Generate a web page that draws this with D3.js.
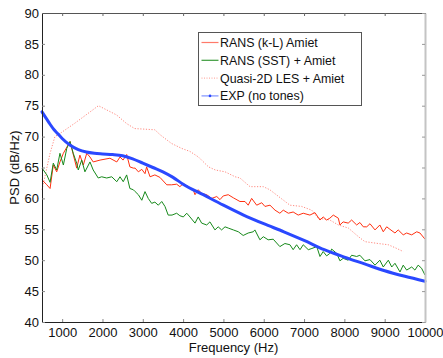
<!DOCTYPE html>
<html>
<head>
<meta charset="utf-8">
<script src="https://cdn.jsdelivr.net/npm/d3@7"></script>
<style>
  body { margin: 0; background: #fff; }
  svg { font-family: "Liberation Sans", Arial, sans-serif; }
  .tick text { font-size: 13px; fill: #111; }
</style>
</head>
<body>
<div id="container"></div>
<script>
// ---------- data ----------
const xTicks = [1000, 2000, 3000, 4000, 5000, 6000, 7000, 8000, 9000, 10000];
const yTicks = [40, 45, 50, 55, 60, 65, 70, 75, 80, 85, 90];

const seriesNames = ["RANS (k-L) Amiet", "RANS (SST) + Amiet", "Quasi-2D LES + Amiet", "EXP (no tones)"];

// RANS (k-L) + Amiet
const redFreq = [500, 620, 700, 780, 865, 945, 1030, 1195, 1360, 1440, 1525, 1610, 1690, 1770, 1940, 2185,
  2355, 2435, 2510, 2600, 2680, 2765, 2810, 2890, 2975, 3055, 3095, 3180, 3300, 3425, 3595, 3715, 3840,
  3920, 4005, 4130, 4250, 4295, 4375, 4460, 4585, 4710, 4835, 4915, 4995, 5120, 5245, 5410, 5535, 5615,
  5700, 5825, 5950, 6030, 6155, 6280, 6400, 6485, 6610, 6730, 6855, 6980, 7145, 7270, 7395, 7475, 7560,
  7640, 7725, 7850, 7890, 7970, 8095, 8180, 8305, 8385, 8470, 8555, 8635, 8760, 8880, 8965, 9050, 9130,
  9255, 9335, 9460, 9545, 9670, 9795, 9875, 10000];
const redPsd = [63.0, 62.2, 61.6, 65.4, 64.3, 65.9, 67.3, 69.2, 64.9, 67.0, 65.4, 67.3, 66.7, 65.9, 66.2, 66.5,
  65.9, 66.7, 66.2, 67.1, 65.1, 64.9, 64.9, 64.3, 64.7, 64.0, 65.1, 63.5, 63.8, 63.4, 62.2, 62.2, 62.3,
  61.9, 62.4, 61.9, 61.4, 60.6, 61.4, 60.8, 60.6, 60.0, 60.3, 59.8, 60.4, 60.6, 60.1, 59.5, 59.5, 58.9,
  60.0, 58.9, 59.3, 58.7, 58.9, 58.1, 57.6, 58.1, 57.6, 57.8, 57.3, 57.6, 57.3, 57.7, 56.5, 57.0, 56.5,
  56.8, 57.3, 56.8, 55.7, 56.2, 56.0, 56.5, 55.7, 56.1, 55.4, 55.4, 55.9, 54.9, 55.7, 54.6, 55.4, 55.0,
  54.4, 54.9, 54.1, 54.4, 54.1, 54.6, 54.4, 53.4];

// RANS (SST) + Amiet
const greenFreq = [500, 620, 700, 780, 865, 945, 1030, 1115, 1195, 1275, 1360, 1400, 1485, 1565, 1690, 1770,
  1895, 1980, 2105, 2230, 2355, 2435, 2515, 2600, 2680, 2765, 2810, 2890, 2975, 3055, 3135, 3220, 3300,
  3385, 3470, 3550, 3630, 3725, 3840, 3920, 4005, 4090, 4170, 4295, 4375, 4460, 4585, 4665, 4790, 4870,
  4955, 5040, 5120, 5245, 5370, 5490, 5615, 5740, 5780, 5905, 5990, 6110, 6235, 6400, 6525, 6650, 6730,
  6815, 6900, 6980, 7105, 7195, 7315, 7395, 7475, 7560, 7640, 7685, 7810, 7890, 7970, 8095, 8180, 8305,
  8385, 8510, 8635, 8760, 8880, 8965, 9090, 9175, 9255, 9380, 9460, 9545, 9670, 9750, 9830, 9915, 10000];
const greenPsd = [64.9, 63.8, 62.6, 65.7, 64.6, 67.3, 65.4, 68.1, 69.2, 67.3, 65.7, 64.6, 66.2, 64.3, 65.9, 64.6,
  63.3, 63.5, 63.3, 63.5, 62.7, 63.5, 62.7, 63.8, 61.6, 61.4, 61.1, 60.6, 59.7, 61.1, 60.0, 59.2, 59.4,
  58.9, 59.5, 58.7, 57.3, 57.3, 57.6, 57.2, 57.0, 57.6, 57.0, 56.0, 57.0, 56.0, 55.7, 56.2, 54.9, 55.4,
  54.9, 55.4, 55.2, 54.9, 54.6, 54.0, 54.4, 54.6, 54.9, 53.3, 53.8, 53.3, 53.4, 52.2, 52.7, 52.5, 51.7,
  52.5, 51.7, 52.5, 51.7, 51.9, 52.2, 50.6, 51.4, 50.7, 51.1, 51.8, 51.1, 49.9, 50.3, 50.0, 50.8, 50.6,
  50.8, 49.9, 50.1, 49.2, 50.0, 48.9, 50.0, 48.9, 49.5, 48.1, 49.2, 48.4, 48.9, 48.4, 49.2, 48.7, 47.6];

// Quasi-2D LES + Amiet
const lesFreq = [500, 700, 820, 945, 1300, 1900, 2350, 2600, 2800, 3060, 3300, 3430, 3710, 3960, 4170, 4380,
  4630, 4800, 5040, 5290, 5410, 5660, 5990, 6150, 6530, 6650, 6940, 7190, 7350, 7640, 7850, 8100, 8350,
  8510, 8840, 9090, 9300, 9460];
const lesPsd = [61.4, 67.3, 70.0, 70.5, 72.1, 75.0, 73.5, 72.1, 71.3, 71.2, 71.1, 70.3, 68.9, 68.1, 67.6, 66.7,
  65.1, 64.6, 64.3, 63.5, 63.3, 61.9, 61.9, 61.4, 59.5, 58.9, 58.7, 58.1, 56.8, 56.5, 55.7, 55.2, 53.8,
  53.0, 52.7, 52.5, 51.9, 51.4];

// EXP (no tones)
const expFreq = [500, 600, 700, 800, 900, 1000, 1200, 1400, 1600, 1800, 2000, 2250, 2500, 2750, 3000, 3250,
  3500, 3750, 4000, 4500, 5000, 5500, 6000, 6500, 7000, 7500, 8000, 8500, 9000, 9500, 10000];
const expPsd = [74.0, 73.0, 72.0, 71.1, 70.4, 69.7, 68.6, 67.9, 67.5, 67.3, 67.2, 67.1, 66.9, 66.4, 65.7, 65.0,
  64.3, 63.4, 62.3, 60.6, 58.9, 57.3, 55.9, 54.6, 53.2, 51.7, 50.5, 49.4, 48.3, 47.4, 46.6];

// ---------- chart ----------
const W = 443, H = 358;
const margin = { left: 42, top: 13, right: 18, bottom: 36 };
const w = W - margin.left - margin.right;
const h = H - margin.top - margin.bottom;

const svg = d3.select("#container").append("svg")
  .attr("width", W).attr("height", H);

const x = d3.scaleLinear().domain([500, 10000]).range([0, w]);
const y = d3.scaleLinear().domain([40, 90]).range([h, 0]);

const g = svg.append("g").attr("transform", `translate(${margin.left},${margin.top})`);

const zip = (fs, vs) => fs.map((f, i) => [f, vs[i]]);
const line = d3.line().x(d => x(d[0])).y(d => y(d[1]));
const smoothLine = d3.line().x(d => x(d[0])).y(d => y(d[1])).curve(d3.curveMonotoneX);

g.append("path").datum(zip(lesFreq, lesPsd))
  .attr("fill", "none").attr("stroke", "#ff8a80").attr("stroke-width", 1)
  .attr("stroke-dasharray", "1.2,1.6").attr("d", line);

g.append("path").datum(zip(redFreq, redPsd))
  .attr("fill", "none").attr("stroke", "#ff3010").attr("stroke-width", 1).attr("d", line);

g.append("path").datum(zip(greenFreq, greenPsd))
  .attr("fill", "none").attr("stroke", "#16891a").attr("stroke-width", 1).attr("d", line);

g.append("path").datum(zip(expFreq, expPsd))
  .attr("fill", "none").attr("stroke", "#2a48ff").attr("stroke-width", 3)
  .attr("stroke-linecap", "round")
  .attr("d", smoothLine);

// axes (MATLAB style box with inward ticks)
const xAxisG = g.append("g").attr("transform", `translate(0,${h})`)
  .call(d3.axisBottom(x).tickValues(xTicks).tickFormat(d3.format("d"))
    .tickSizeInner(-3).tickSizeOuter(0).tickPadding(6));
const yAxisG = g.append("g")
  .call(d3.axisLeft(y).tickValues(yTicks).tickSizeInner(-3).tickSizeOuter(0).tickPadding(3));
[xAxisG, yAxisG].forEach(a => {
  a.select(".domain").attr("stroke", "#222");
  a.selectAll(".tick line").attr("stroke", "#888");
});

const topAxisG = g.append("g")
  .call(d3.axisTop(x).tickValues(xTicks).tickSizeInner(-3).tickSizeOuter(0).tickFormat(""));
topAxisG.select(".domain").attr("stroke", "#555");
topAxisG.selectAll(".tick line").attr("stroke", "#666");

const rightAxisG = g.append("g").attr("transform", `translate(${w},0)`)
  .call(d3.axisRight(y).tickValues(yTicks).tickSizeInner(-3).tickSizeOuter(0).tickFormat(""));
rightAxisG.select(".domain").attr("stroke", "#c4c4c4").attr("stroke-width", 2);
rightAxisG.selectAll(".tick line").attr("stroke", "#999");

// axis labels
svg.append("text")
  .attr("x", margin.left + w / 2).attr("y", 352)
  .attr("text-anchor", "middle").attr("font-size", 13).attr("fill", "#111")
  .text("Frequency (Hz)");
svg.append("text")
  .attr("transform", `translate(19,${margin.top + h / 2}) rotate(-90)`)
  .attr("text-anchor", "middle").attr("font-size", 13).attr("fill", "#111")
  .text("PSD (dB/Hz)");

// legend
const legend = svg.append("g").attr("transform", "translate(198.5,32.5)");
legend.append("rect")
  .attr("width", 163).attr("height", 73)
  .attr("fill", "#fff").attr("stroke", "#555");

const legendStyle = [
  { color: "#ff7a6a", dash: null },
  { color: "#3a9a3a", dash: null },
  { color: "#ffb0a8", dash: "1,1.5" },
  { color: "#7f92ff", dash: null }
];
seriesNames.forEach((name, i) => {
  const yy = 10 + i * 17.8;
  const row = legend.append("g").attr("transform", `translate(0,${yy})`);
  row.append("line")
    .attr("x1", 3).attr("x2", 20).attr("y1", 0).attr("y2", 0)
    .attr("stroke", legendStyle[i].color).attr("stroke-width", 1.2)
    .attr("stroke-dasharray", legendStyle[i].dash);
  if (i === 3) {
    row.append("circle").attr("cx", 11.5).attr("cy", 0).attr("r", 1.3).attr("fill", "#2a48ff");
  }
  row.append("text")
    .attr("x", 21.5).attr("y", 4.5)
    .attr("font-size", 12.4).attr("fill", "#111")
    .text(name);
});
</script>
</body>
</html>
